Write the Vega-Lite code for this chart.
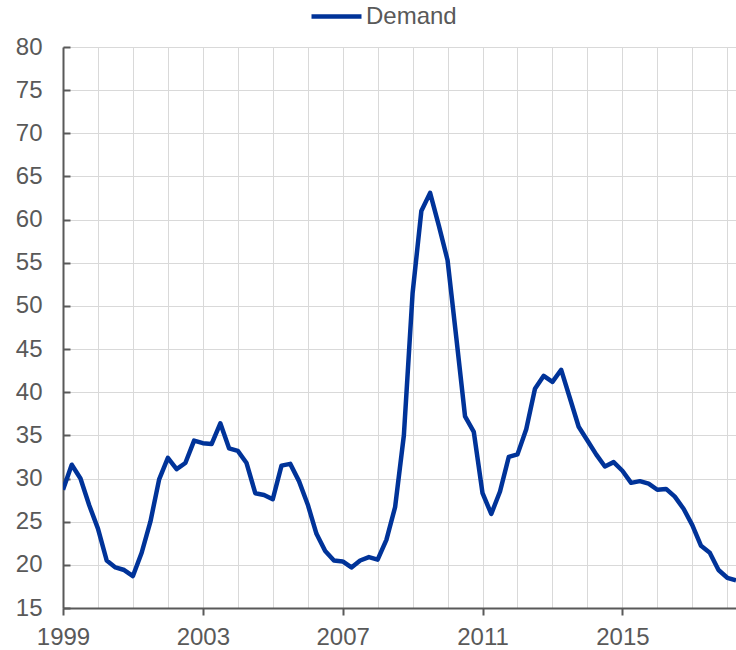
{
  "$schema": "https://vega.github.io/schema/vega-lite/v6.json",
  "autosize": {"type": "none"},
  "width": 673,
  "height": 561,
  "padding": {"left": 63, "top": 47, "right": 0, "bottom": 42},
  "background": "white",
  "config": {
    "view": {"stroke": null},
    "font": "Liberation Sans",
    "axis": {
      "labelFont": "Liberation Sans",
      "labelFontSize": 24,
      "labelColor": "#595959",
      "gridColor": "#d9d9d9",
      "gridWidth": 1,
      "domainColor": "#595959",
      "domainWidth": 2,
      "tickColor": "#595959",
      "tickWidth": 2,
      "title": null
    }
  },
  "data": {
    "values": [
      {"t": 1999.0, "v": 28.7}, {"t": 1999.25, "v": 31.6}, {"t": 1999.5, "v": 30.0}, {"t": 1999.75, "v": 26.9},
      {"t": 2000.0, "v": 24.2}, {"t": 2000.25, "v": 20.5}, {"t": 2000.5, "v": 19.7}, {"t": 2000.75, "v": 19.4},
      {"t": 2001.0, "v": 18.7}, {"t": 2001.25, "v": 21.4}, {"t": 2001.5, "v": 25.0}, {"t": 2001.75, "v": 29.9},
      {"t": 2002.0, "v": 32.4}, {"t": 2002.25, "v": 31.1}, {"t": 2002.5, "v": 31.8}, {"t": 2002.75, "v": 34.4},
      {"t": 2003.0, "v": 34.1}, {"t": 2003.25, "v": 34.0}, {"t": 2003.5, "v": 36.4}, {"t": 2003.75, "v": 33.5},
      {"t": 2004.0, "v": 33.2}, {"t": 2004.25, "v": 31.8}, {"t": 2004.5, "v": 28.3}, {"t": 2004.75, "v": 28.1},
      {"t": 2005.0, "v": 27.6}, {"t": 2005.25, "v": 31.5}, {"t": 2005.5, "v": 31.7}, {"t": 2005.75, "v": 29.7},
      {"t": 2006.0, "v": 27.0}, {"t": 2006.25, "v": 23.6}, {"t": 2006.5, "v": 21.6}, {"t": 2006.75, "v": 20.5},
      {"t": 2007.0, "v": 20.4}, {"t": 2007.25, "v": 19.7}, {"t": 2007.5, "v": 20.5}, {"t": 2007.75, "v": 20.9},
      {"t": 2008.0, "v": 20.6}, {"t": 2008.25, "v": 22.9}, {"t": 2008.5, "v": 26.7}, {"t": 2008.75, "v": 35.0},
      {"t": 2009.0, "v": 51.5}, {"t": 2009.25, "v": 61.0}, {"t": 2009.5, "v": 63.1}, {"t": 2009.75, "v": 59.3},
      {"t": 2010.0, "v": 55.3}, {"t": 2010.25, "v": 46.3}, {"t": 2010.5, "v": 37.2}, {"t": 2010.75, "v": 35.4},
      {"t": 2011.0, "v": 28.3}, {"t": 2011.25, "v": 25.9}, {"t": 2011.5, "v": 28.5}, {"t": 2011.75, "v": 32.5},
      {"t": 2012.0, "v": 32.8}, {"t": 2012.25, "v": 35.7}, {"t": 2012.5, "v": 40.4}, {"t": 2012.75, "v": 41.9},
      {"t": 2013.0, "v": 41.2}, {"t": 2013.25, "v": 42.6}, {"t": 2013.5, "v": 39.3}, {"t": 2013.75, "v": 36.0},
      {"t": 2014.0, "v": 34.4}, {"t": 2014.25, "v": 32.8}, {"t": 2014.5, "v": 31.4}, {"t": 2014.75, "v": 31.9},
      {"t": 2015.0, "v": 30.9}, {"t": 2015.25, "v": 29.5}, {"t": 2015.5, "v": 29.7}, {"t": 2015.75, "v": 29.4},
      {"t": 2016.0, "v": 28.7}, {"t": 2016.25, "v": 28.8}, {"t": 2016.5, "v": 27.9}, {"t": 2016.75, "v": 26.5},
      {"t": 2017.0, "v": 24.6}, {"t": 2017.25, "v": 22.2}, {"t": 2017.5, "v": 21.4}, {"t": 2017.75, "v": 19.4},
      {"t": 2018.0, "v": 18.5}, {"t": 2018.25, "v": 18.2}
    ]
  },
  "mark": {"type": "line", "strokeWidth": 4.5, "clip": true, "strokeJoin": "round", "strokeCap": "butt"},
  "encoding": {
    "x": {
      "field": "t",
      "type": "quantitative",
      "scale": {"domain": [1999, 2018.25], "nice": false, "zero": false},
      "axis": {
        "values": [1999, 2000, 2001, 2002, 2003, 2004, 2005, 2006, 2007, 2008, 2009, 2010, 2011, 2012, 2013, 2014, 2015, 2016, 2017, 2018],
        "format": "d",
        "labelExpr": "(datum.value - 1999) % 4 == 0 ? datum.label : ''",
        "tickSize": 7,
        "tickOpacity": {"condition": {"test": "(datum.value - 1999) % 4 == 0", "value": 1}, "value": 0},
        "labelPadding": 10,
        "labelFlush": false,
        "labelOverlap": false,
        "grid": true
      }
    },
    "y": {
      "field": "v",
      "type": "quantitative",
      "scale": {"domain": [15, 80], "nice": false, "zero": false},
      "axis": {
        "values": [15, 20, 25, 30, 35, 40, 45, 50, 55, 60, 65, 70, 75, 80],
        "tickSize": -7,
        "labelPadding": 28,
        "grid": true
      }
    },
    "color": {
      "datum": "Demand",
      "type": "nominal",
      "scale": {"range": ["#003399"]},
      "legend": {
        "title": null,
        "orient": "none",
        "legendX": 246,
        "legendY": -58,
        "symbolType": "stroke",
        "symbolSize": 2500,
        "symbolStrokeWidth": 4.5,
        "labelFont": "Liberation Sans",
        "labelFontSize": 24,
        "labelColor": "#595959",
        "labelOffset": 2
      }
    }
  }
}
